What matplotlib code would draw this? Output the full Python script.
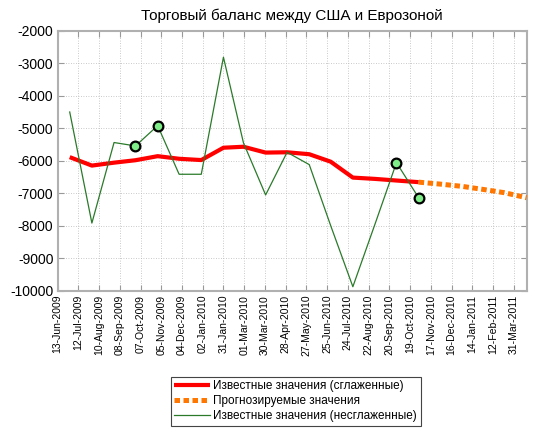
import numpy as np
import pandas as pd
import matplotlib
matplotlib.use('Agg')
from matplotlib import pyplot as plt
import matplotlib.dates as mdates

plt.rcParams['font.family'] = ['Liberation Sans', 'DejaVu Sans']

# известные значения (конец месяца)
known_dates = ['2009-06-30', '2009-07-31', '2009-08-31', '2009-09-30', '2009-10-31',
               '2009-11-30', '2009-12-31', '2010-01-31', '2010-02-28', '2010-03-31',
               '2010-04-30', '2010-05-31', '2010-06-30', '2010-07-31', '2010-08-31',
               '2010-09-30', '2010-10-31']
raw_values = [-4500, -7920, -5440, -5545, -4920, -6417, -6417, -2813, -5450, -7054,
              -5740, -6120, -8000, -9880, -7950, -6060, -7140]
smooth_values = [-5890, -6150, -6060, -5985, -5860, -5940, -5980, -5600, -5570, -5750,
                 -5740, -5800, -6030, -6520, -6560, -6610, -6660]
# прогноз
fc_dates = ['2010-10-31', '2010-11-30', '2010-12-31', '2011-01-31', '2011-02-28', '2011-03-31']
fc_values = [-6660, -6720, -6790, -6890, -6985, -7140]
# выделенные точки
mark_idx = [3, 4, 15, 16]

tick_labels = ['13-Jun-2009', '12-Jul-2009', '10-Aug-2009', '08-Sep-2009', '07-Oct-2009',
               '05-Nov-2009', '04-Dec-2009', '02-Jan-2010', '31-Jan-2010', '01-Mar-2010',
               '30-Mar-2010', '28-Apr-2010', '27-May-2010', '25-Jun-2010', '24-Jul-2010',
               '22-Aug-2010', '20-Sep-2010', '19-Oct-2010', '17-Nov-2010', '16-Dec-2010',
               '14-Jan-2011', '12-Feb-2011', '31-Mar-2011']
y_ticks = [-10000, -9000, -8000, -7000, -6000, -5000, -4000, -3000, -2000]

kx = mdates.date2num(pd.to_datetime(known_dates))
fx = mdates.date2num(pd.to_datetime(fc_dates))
tx = mdates.date2num(pd.date_range('2009-06-13', periods=len(tick_labels), freq='29D'))
raw = np.array(raw_values)

fig = plt.figure(figsize=(5.33, 4.28), dpi=100)
ax = fig.add_axes([0.108, 0.321, 0.880, 0.607])

l1, = ax.plot(kx, smooth_values, color='#ff0000', lw=3.0, solid_capstyle='butt', zorder=3)
l2, = ax.plot(fx, fc_values, color='#ff7700', lw=3.6, dashes=(1.1, 0.7), zorder=3)
l3, = ax.plot(kx, raw_values, color='#2a7a2a', lw=0.9, zorder=4)
ax.plot(kx[mark_idx], raw[mark_idx], 'o', ms=7, mfc='#80ee88', mec='black', mew=1.6, zorder=5)

ax.set_xlim(mdates.date2num(pd.Timestamp('2009-06-13')), mdates.date2num(pd.Timestamp('2011-03-31')))
ax.set_ylim(-10000, -2000)
ax.set_xticks(tx)
ax.set_xticklabels(tick_labels, rotation=90, fontsize=7.5)
ax.set_yticks(y_ticks)
ax.set_yticklabels([str(v) for v in y_ticks], fontsize=10)
ax.tick_params(direction='in', top=True, right=True, length=4, color='#999999', pad=3)
ax.grid(True, color='#b8b8b8', lw=0.6, linestyle=(0, (1, 2)))
for s in ax.spines.values():
    s.set_color('#b0b0b0')
    s.set_linewidth(1.5)

ax.set_title('Торговый баланс между США и Еврозоной', fontsize=11, pad=8)

leg = fig.legend([l1, l2, l3],
                 ['Известные значения (сглаженные)', 'Прогнозируемые значения',
                  'Известные значения (несглаженные)'],
                 loc='lower center', bbox_to_anchor=(0.555, -0.008), fontsize=8.5,
                 fancybox=False, framealpha=1, edgecolor='#444444',
                 handlelength=3.0, handletextpad=0.3, labelspacing=0.25, borderpad=0.3)
leg.get_frame().set_linewidth(0.8)

fig.savefig('out.png', dpi=100)
